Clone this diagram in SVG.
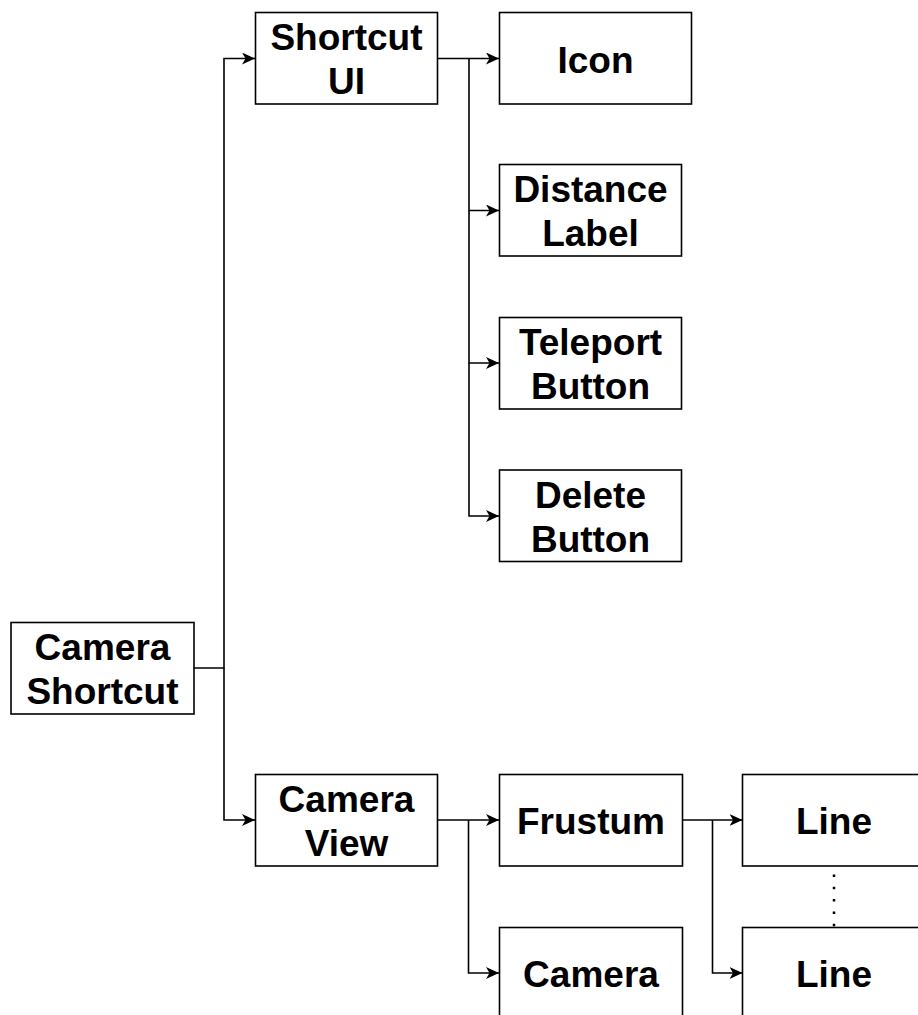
<svg xmlns="http://www.w3.org/2000/svg" width="918" height="1015" viewBox="0 0 918 1015">
<style>
.box{fill:#fff;stroke:#000;stroke-width:1.6}
.t{font-family:"Liberation Sans",Arial,sans-serif;font-weight:bold;font-size:37px;text-anchor:middle;fill:#000}
.c{fill:none;stroke:#000;stroke-width:1.6}
.d{fill:none;stroke:#000;stroke-width:2.5;stroke-dasharray:2.5 9.8}
</style>
<defs>
<marker id="ah" viewBox="0 0 13 12" refX="13" refY="6" markerWidth="13" markerHeight="12" markerUnits="userSpaceOnUse" orient="auto">
<path d="M0,0 L13,6 L0,12 L3.5,6 z" fill="#000"/>
</marker>
</defs>
<rect width="918" height="1015" fill="#fff"/>
<g id="connectors">
<path class="c" d="M194,668 H224 V58.5 H255" marker-end="url(#ah)"/>
<path class="c" d="M224,668 V820 H255" marker-end="url(#ah)"/>
<path class="c" d="M437.5,58.5 H499" marker-end="url(#ah)"/>
<path class="c" d="M469,58.5 V210.5 H499" marker-end="url(#ah)"/>
<path class="c" d="M469,210.5 V363 H499" marker-end="url(#ah)"/>
<path class="c" d="M469,363 V516 H499" marker-end="url(#ah)"/>
<path class="c" d="M437.5,820 H499" marker-end="url(#ah)"/>
<path class="c" d="M468.5,820 V973 H499" marker-end="url(#ah)"/>
<path class="c" d="M682.5,820 H742.5" marker-end="url(#ah)"/>
<path class="c" d="M712.5,820 V973 H742.5" marker-end="url(#ah)"/>
<path class="d" d="M834,874.5 V927"/>
</g>
<g id="camera-shortcut">
<rect class="box" x="11" y="622.5" width="183" height="91.5"/>
<text class="t" x="102.5" y="660">Camera</text>
<text class="t" x="102.5" y="704">Shortcut</text>
</g>
<g id="shortcut-ui">
<rect class="box" x="255.5" y="12.5" width="182" height="91.5"/>
<text class="t" x="346.5" y="50">Shortcut</text>
<text class="t" x="346.5" y="94">UI</text>
</g>
<g id="icon">
<rect class="box" x="499.5" y="12.5" width="192" height="91.5"/>
<text class="t" x="595.5" y="72.5">Icon</text>
</g>
<g id="distance-label">
<rect class="box" x="499.5" y="164.5" width="182" height="91.5"/>
<text class="t" x="590.5" y="202">Distance</text>
<text class="t" x="590.5" y="246">Label</text>
</g>
<g id="teleport-button">
<rect class="box" x="499.5" y="317.5" width="182" height="91.5"/>
<text class="t" x="590.5" y="355">Teleport</text>
<text class="t" x="590.5" y="399">Button</text>
</g>
<g id="delete-button">
<rect class="box" x="499.5" y="470" width="182" height="91.5"/>
<text class="t" x="590.5" y="507.5">Delete</text>
<text class="t" x="590.5" y="551.5">Button</text>
</g>
<g id="camera-view">
<rect class="box" x="255.5" y="774.5" width="182" height="91.5"/>
<text class="t" x="346.5" y="812">Camera</text>
<text class="t" x="346.5" y="856">View</text>
</g>
<g id="frustum">
<rect class="box" x="499.5" y="774.5" width="183" height="91.5"/>
<text class="t" x="591" y="834">Frustum</text>
</g>
<g id="camera">
<rect class="box" x="499.5" y="927.5" width="183" height="91.5"/>
<text class="t" x="591" y="987">Camera</text>
</g>
<g id="line-1">
<rect class="box" x="742.5" y="774.5" width="183" height="91.5"/>
<text class="t" x="834" y="834">Line</text>
</g>
<g id="line-2">
<rect class="box" x="742.5" y="927.5" width="183" height="91.5"/>
<text class="t" x="834" y="987">Line</text>
</g>
</svg>
